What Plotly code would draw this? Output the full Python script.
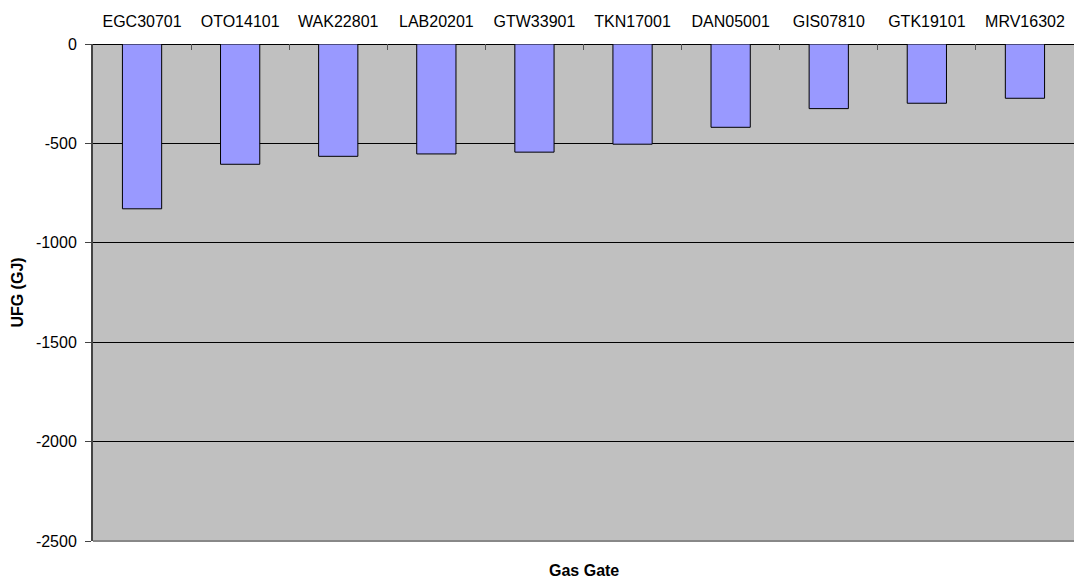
import plotly.graph_objects as go

gates = ["EGC30701", "OTO14101", "WAK22801", "LAB20201", "GTW33901",
         "TKN17001", "DAN05001", "GIS07810", "GTK19101", "MRV16302"]
ufg = [-829, -605, -565, -553, -544, -504, -419, -325, -298, -273]

y_ticks = [0, -500, -1000, -1500, -2000, -2500]

FONT = "Liberation Sans, Arial, sans-serif"

fig = go.Figure()
fig.add_trace(go.Bar(
    x=gates, y=ufg,
    marker=dict(color="#9999FF", line=dict(color="#000000", width=1)),
    width=0.4,
))

fig.update_layout(
    width=1074, height=579,
    margin=dict(l=93, r=0, t=44, b=38),
    paper_bgcolor="white",
    plot_bgcolor="#C0C0C0",
    showlegend=False,
    font=dict(family=FONT, size=16, color="black"),
    xaxis=dict(
        side="top",
        type="category",
        tickson="boundaries",
        ticks="inside",
        ticklen=6,
        tickcolor="#555555",
        tickwidth=1,
        showgrid=False,
        showline=False,
        zeroline=False,
        tickfont=dict(size=16),
        ticklabelstandoff=13,
        range=[-0.5, 9.5],
    ),
    yaxis=dict(
        range=[-2500, 0],
        tickvals=y_ticks,
        ticktext=[str(v) for v in y_ticks],
        ticks="outside",
        ticklen=6,
        tickcolor="#444444",
        showline=True,
        linecolor="#444444",
        linewidth=2,
        showgrid=True,
        gridcolor="#000000",
        gridwidth=1,
        zeroline=True,
        zerolinecolor="#000000",
        zerolinewidth=1,
        tickfont=dict(size=16),
        ticklabelstandoff=5,
        title=dict(text="<b>UFG (GJ)</b>", font=dict(size=16), standoff=8),
    ),
)

fig.add_shape(type="line", xref="paper", yref="paper", x0=0, x1=1, y0=0, y1=0,
              line=dict(color="#888888", width=2))

fig.add_annotation(text="<b>Gas Gate</b>", xref="paper", yref="paper",
                   x=0.5, y=0, yshift=-29, showarrow=False,
                   font=dict(size=16), xanchor="center", yanchor="middle")

fig.write_html(
    "out.html",
    config={"displayModeBar": False},
    post_script="document.body.style.margin='0';document.body.style.padding='0';document.body.style.overflow='hidden';",
)
